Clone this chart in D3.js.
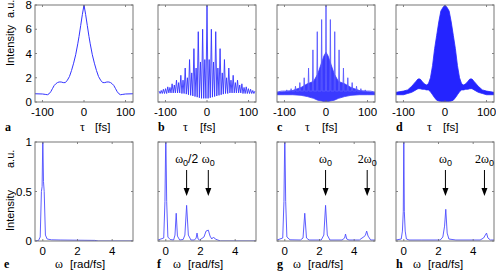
<!DOCTYPE html>
<html><head><meta charset="utf-8">
<script src="https://cdn.jsdelivr.net/npm/d3@7"></script>
<style>body{margin:0;background:#fff}</style>
</head><body><svg></svg>
<script>
// ticks
var tauTicks=[-100,0,100];
var yTopTicks=[0,2,4,6,8];
var wTicks=[0,2,4];
var yBotTicks=[0,0.5,1];

// a: intensity autocorrelation (tau fs, value)
var tauA=[-118,-100,-92,-88,-84,-80,-76,-72,-68,-64,-60,-55,-50,-45,-40,-35,-30,-25,-20,-15,-12,-8,-4,0,4,8,12,15,20,25,30,35,40,45,50,55,60,64,68,72,76,80,84,88,92,100,118];
var valA=[0.68,0.66,0.62,0.6,0.68,0.85,1.1,1.35,1.5,1.6,1.65,1.65,1.6,1.6,1.8,2.1,2.6,3.2,3.9,4.8,5.4,6.3,7.2,8.0,7.2,6.3,5.4,4.8,3.9,3.2,2.6,2.1,1.8,1.6,1.6,1.65,1.65,1.6,1.5,1.35,1.1,0.85,0.68,0.6,0.62,0.66,0.68];

// b: fringe peaks every 5.25 fs from -115.5 to 115.5, troughs between
var peaksB=[0.9,0.95,1.05,1.1,1.25,1.2,1.5,1.4,1.8,1.6,2.2,1.8,2.8,2.0,3.5,2.4,4.4,2.8,5.8,3.3,6.0,3.5,8.0,3.5,6.0,3.3,5.8,2.8,4.4,2.4,3.5,2.0,2.8,1.8,2.2,1.6,1.8,1.4,1.5,1.2,1.25,1.1,1.05,0.95,0.9];
var troughsB=[0.7,0.7,0.7,0.7,0.75,0.75,0.75,0.75,0.75,0.75,0.7,0.7,0.65,0.6,0.55,0.5,0.45,0.4,0.35,0.3,0.3,0.3,0.3,0.35,0.4,0.45,0.5,0.55,0.6,0.65,0.7,0.7,0.75,0.75,0.75,0.75,0.75,0.75,0.7,0.7,0.7,0.7,0.7,0.7];
var stepB=5.25;

// c: tall spikes every 10.5 fs plus dense fringe band
var peaksC=[0.85,0.9,1.0,1.1,1.3,1.6,2.0,2.8,4.3,5.8,6.8,8.0,6.8,5.8,4.3,2.8,2.0,1.6,1.3,1.1,1.0,0.9,0.85];
var stepC=10.5;
var tauBandC=[-118,-100,-80,-60,-45,-30,-20,-10,-5,0,5,10,20,30,45,60,80,100,118];
var lowC=[0.6,0.6,0.6,0.55,0.45,0.3,0.15,0.08,0.03,0.02,0.03,0.08,0.15,0.3,0.45,0.55,0.6,0.6,0.6];
var highC=[0.8,0.85,0.95,1.2,1.5,1.7,2.3,3.3,3.8,4.1,3.8,3.3,2.3,1.7,1.5,1.2,0.95,0.85,0.8];

// d: dense fringes, envelopes only
var tauD=[-118,-100,-90,-80,-70,-65,-60,-55,-50,-45,-40,-35,-30,-25,-20,-15,-10,-5,0,5,10,15,20,25,30,35,40,45,50,55,60,65,70,80,90,100,118];
var upD=[0.8,0.9,1.0,1.3,1.7,1.9,1.9,1.7,1.5,1.4,1.5,2.0,3.0,4.4,5.5,6.6,7.5,7.8,8.0,7.8,7.5,6.6,5.5,4.4,3.0,2.0,1.5,1.4,1.5,1.7,1.9,1.9,1.7,1.3,1.0,0.9,0.8];
var loD=[0.6,0.6,0.7,0.8,1.0,1.1,1.1,1.05,1.05,1.0,1.0,0.85,0.6,0.35,0.15,0.08,0.05,0.02,0.0,0.02,0.05,0.08,0.15,0.35,0.6,0.85,1.0,1.0,1.05,1.05,1.1,1.1,1.0,0.8,0.7,0.6,0.6];

// e-h: spectra (omega rad/fs, normalised intensity)
var wE=[-0.45,-0.25,-0.15,-0.08,-0.04,0,0.04,0.08,0.15,0.25,0.5,1,2,3,3.2,5.2];
var sE=[0,0.005,0.04,0.5,0.55,1.05,0.6,0.5,0.06,0.02,0.012,0.01,0.008,0.006,0,0];
var wF=[-0.45,-0.12,-0.05,0,0.05,0.12,0.25,0.45,0.53,0.6,0.67,0.8,1.0,1.1,1.2,1.3,1.45,1.65,1.75,1.8,1.86,1.95,2.2,2.32,2.45,2.55,2.65,2.75,2.85,3.0,3.15,5.2];
var sF=[0.01,0.03,0.4,1.1,0.4,0.04,0.015,0.01,0.06,0.28,0.05,0.01,0.015,0.06,0.36,0.06,0.01,0.01,0.03,0.08,0.02,0.01,0.04,0.1,0.11,0.05,0.02,0.04,0.02,0.01,0,0];
var wG=[-0.45,-0.12,-0.05,0,0.05,0.12,0.3,0.9,1.05,1.15,1.25,1.4,2.1,2.25,2.35,2.45,2.6,3.3,3.45,3.5,3.57,3.7,4.3,4.45,4.55,4.65,4.72,4.8,4.95,5.2];
var sG=[0.01,0.03,0.4,1.1,0.4,0.04,0.012,0.01,0.03,0.28,0.03,0.01,0.01,0.06,0.36,0.06,0.01,0.01,0.03,0.07,0.02,0.01,0.01,0.03,0.04,0.06,0.1,0.05,0.01,0.01];
var wH=[-0.45,-0.15,-0.08,-0.03,0,0.03,0.08,0.15,0.3,1.0,2.1,2.25,2.35,2.42,2.5,2.6,3.0,4.4,4.6,4.7,4.77,4.85,5.0,5.2];
var sH=[0.01,0.02,0.1,0.3,1.1,0.3,0.1,0.02,0.01,0.01,0.01,0.04,0.15,0.32,0.08,0.02,0.01,0.01,0.03,0.06,0.08,0.03,0.01,0.01];

// arrows (omega) and labels
var arrowsF=[1.2,2.45], labelsF=[["ω","0","/2"],["ω","0",""]];
var arrowsG=[2.35,4.75], labelsG=[["ω","0",""],["2ω","0",""]];
var arrowsH=[2.4,4.65], labelsH=[["ω","0",""],["2ω","0",""]];

var topLetters=["a","b","c","d"];
var botLetters=["e","f","g","h"];

var svg=d3.select("svg").attr("width",496).attr("height",275);
var lefts=[35,158,277,396], pw=98;
var topY=[5,102], botY=[142,241];
var blue="#3434ff";
var sans="'Liberation Sans', Arial, sans-serif", serif="'Liberation Serif','Times New Roman',serif";

svg.append("defs");

function frame(i,top){
  var x0=lefts[i], yr=top?topY:botY;
  var xs=d3.scaleLinear().domain(top?[-118,118]:[-0.45,5.2]).range([x0,x0+pw]);
  var ys=d3.scaleLinear().domain(top?[0,8]:[0,1]).range([yr[1],yr[0]]);
  var g=svg.append("g");
  var id="clip"+(top?"t":"b")+i;
  svg.select("defs").append("clipPath").attr("id",id)
     .append("rect").attr("x",x0).attr("y",yr[0]).attr("width",pw).attr("height",yr[1]-yr[0]);
  var plot=g.append("g").attr("clip-path","url(#"+id+")");
  var xt=top?tauTicks:wTicks, yt=top?yTopTicks:yBotTicks;
  xt.forEach(function(t){
    [[yr[1],yr[1]-2],[yr[0],yr[0]+2]].forEach(function(p){
      g.append("line").attr("x1",xs(t)).attr("x2",xs(t)).attr("y1",p[0]).attr("y2",p[1]).attr("stroke","#666").attr("stroke-width",0.8);
    });
    g.append("text").attr("x",xs(t)).attr("y",yr[1]+14).attr("text-anchor","middle")
     .attr("font-family",sans).attr("font-size",11.5).text(t);
  });
  yt.forEach(function(t){
    [[x0,x0+2],[x0+pw,x0+pw-2]].forEach(function(p){
      g.append("line").attr("x1",p[0]).attr("x2",p[1]).attr("y1",ys(t)).attr("y2",ys(t)).attr("stroke","#666").attr("stroke-width",0.8);
    });
    if(i===0) g.append("text").attr("x",x0-3).attr("y",ys(t)+4).attr("text-anchor","end")
      .attr("font-family",sans).attr("font-size",11.5).text(t);
  });
  g.append("rect").attr("x",x0).attr("y",yr[0]).attr("width",pw).attr("height",yr[1]-yr[0])
   .attr("fill","none").attr("stroke","#777").attr("stroke-width",1);
  return {xs:xs,ys:ys,plot:plot,g:g};
}

function line(p,xsArr,ysArr,w,col){
  var l=d3.line().x(function(d){return p.xs(d[0]);}).y(function(d){return p.ys(d[1]);});
  p.plot.append("path").attr("d",l(xsArr.map(function(x,k){return [x,ysArr[k]];})))
   .attr("fill","none").attr("stroke",col||blue).attr("stroke-width",w||1).attr("stroke-linejoin","round");
}

// top row
var pa=frame(0,true);
line(pa,tauA,valA,1);

var pb=frame(1,true);
var tb=[],vb=[];
peaksB.forEach(function(v,k){
  var t=(k-22)*stepB;
  tb.push(t); vb.push(v);
  if(k<troughsB.length){tb.push(t+stepB/2); vb.push(troughsB[k]);}
});
line(pb,tb,vb,0.9);

var pc=frame(2,true);
var area=d3.area().x(function(d){return pc.xs(d[0]);}).y0(function(d){return pc.ys(d[1]);}).y1(function(d){return pc.ys(d[2]);});
pc.plot.append("path").attr("d",area(tauBandC.map(function(t,k){return [t,lowC[k],highC[k]];})))
  .attr("fill","#3a3aff").attr("stroke","#3a3aff").attr("stroke-width",0.8);
var tc=[],vc=[];
peaksC.forEach(function(v,k){
  var t=(k-11)*stepC;
  tc.push(t-1.3); vc.push(d3.min([v,0.9]));
  tc.push(t); vc.push(v);
  tc.push(t+1.3); vc.push(d3.min([v,0.9]));
});
line(pc,tc,vc,0.9,"#5a5aff");

var pd=frame(3,true);
var aread=d3.area().x(function(d){return pd.xs(d[0]);}).y0(function(d){return pd.ys(d[1]);}).y1(function(d){return pd.ys(d[2]);});
pd.plot.append("path").attr("d",aread(tauD.map(function(t,k){return [t,loD[k],upD[k]];})))
  .attr("fill","#2424ff").attr("stroke","#2424ff").attr("stroke-width",0.8);

// bottom row
var specs=[[wE,sE],[wF,sF],[wG,sG],[wH,sH]];
var arrows=[[],arrowsF,arrowsG,arrowsH], labels=[[],labelsF,labelsG,labelsH];
specs.forEach(function(s,i){
  var p=frame(i,false);
  line(p,s[0],s[1],0.9,"#4c4cff");
  arrows[i].forEach(function(w,k){
    var x=p.xs(w);
    p.g.append("line").attr("x1",x).attr("x2",x).attr("y1",170).attr("y2",190).attr("stroke","#000").attr("stroke-width",1);
    p.g.append("path").attr("d","M"+(x-3)+",188L"+(x+3)+",188L"+x+",196Z").attr("fill","#000");
    var lb=labels[i][k];
    var t=p.g.append("text").attr("x",x).attr("y",163).attr("text-anchor","middle")
      .attr("font-family",sans).attr("font-size",12);
    t.append("tspan").attr("font-family",serif).text(lb[0]);
    t.append("tspan").attr("font-size",9).attr("dy",3).text(lb[1]);
    if(lb[2]) t.append("tspan").attr("dy",-3).text(lb[2]);
  });
});

// axis labels
function ylab(yInt,yAu){
  svg.append("text").attr("transform","translate(14,"+yInt+") rotate(-90)")
    .attr("font-family",sans).attr("font-size",11).text("Intensity");
  svg.append("text").attr("transform","translate(14,"+yAu+") rotate(-90)")
    .attr("font-family",sans).attr("font-size",11).text("a.u.");
}
ylab(66,18);
ylab(231,168);

var topLab=[[5,80,95],[158,183,200],[277,305,322],[396,427,443]];
topLab.forEach(function(p,i){
  svg.append("text").attr("x",p[0]).attr("y",131).attr("font-family",serif).attr("font-weight","bold").attr("font-size",12).text(topLetters[i]);
  svg.append("text").attr("x",p[1]).attr("y",131).attr("font-family",serif).attr("font-size",12).text("τ");
  svg.append("text").attr("x",p[2]).attr("y",131).attr("font-family",sans).attr("font-size",11.5).text("[fs]");
});
var botLab=[[4,55,70],[157,173,188],[277,293,308],[396,413,428]];
botLab.forEach(function(p,i){
  svg.append("text").attr("x",p[0]).attr("y",268).attr("font-family",serif).attr("font-weight","bold").attr("font-size",12).text(botLetters[i]);
  svg.append("text").attr("x",p[1]).attr("y",268).attr("font-family",serif).attr("font-size",12).text("ω");
  svg.append("text").attr("x",p[2]).attr("y",268).attr("font-family",sans).attr("font-size",11.5).text("[rad/fs]");
});
</script>
</body></html>
